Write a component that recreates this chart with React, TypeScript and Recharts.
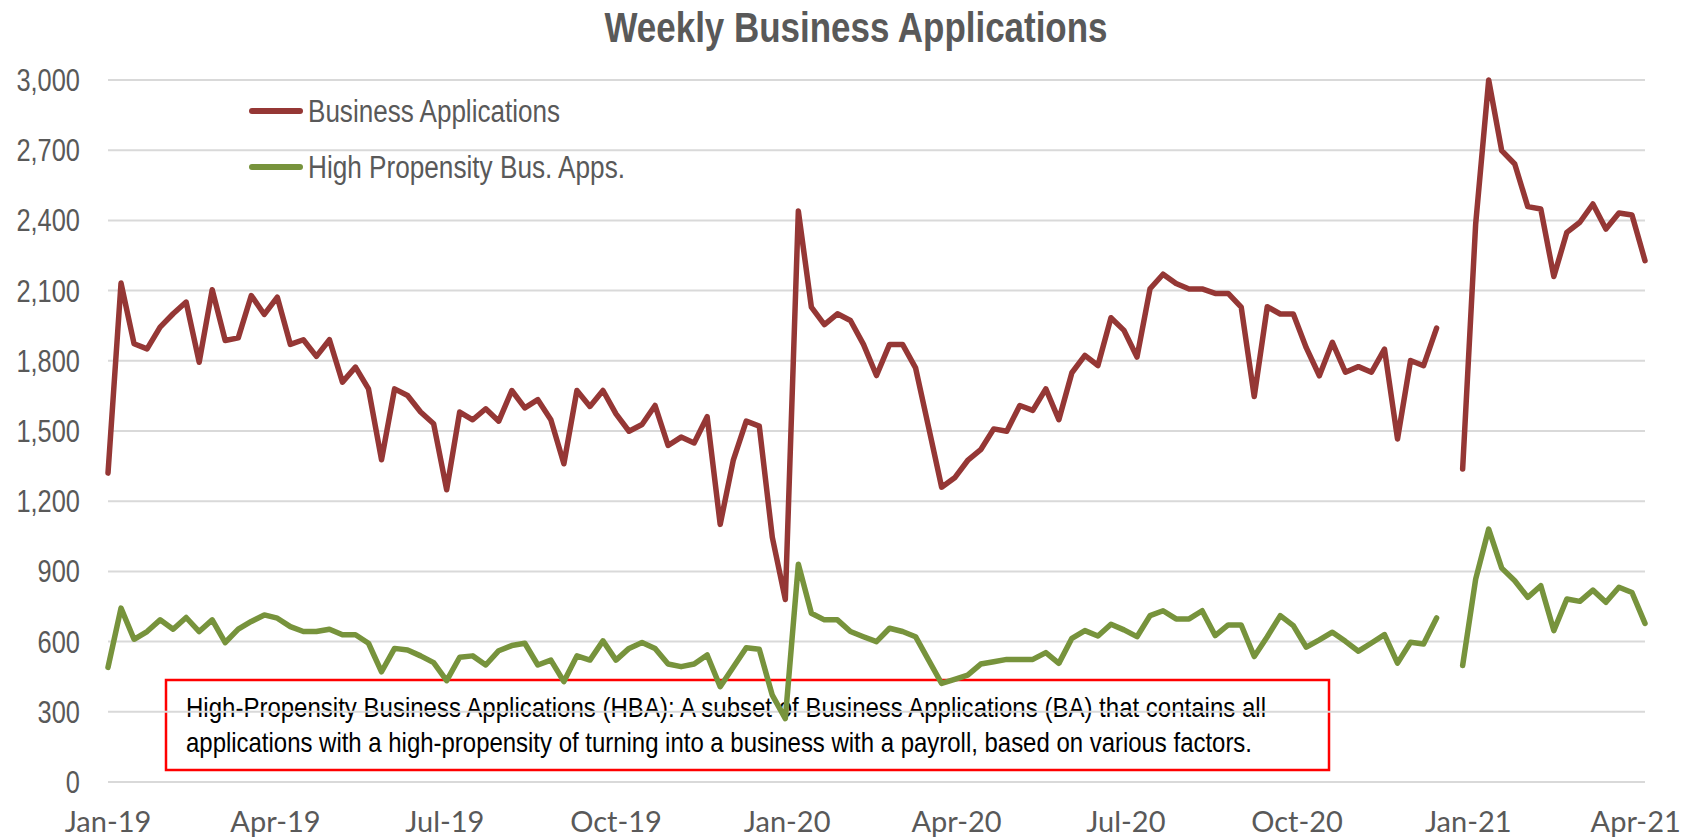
import { LineChart, Line, XAxis, YAxis, CartesianGrid, Legend } from 'recharts'

// ─── Data ──────────────────────────────────────────────────────────────────────

// one point per week, starting on the first week of Jan 2019 (index 103 is missing)
const BUSINESS_APPS: (number | null)[] = [
  1320, 2132, 1873, 1851, 1944, 2001, 2051, 1794, 2104, 1887,
  1898, 2079, 1998, 2072, 1870, 1890, 1819, 1890, 1709, 1773,
  1680, 1377, 1680, 1652, 1581, 1531, 1249, 1581, 1548, 1595,
  1542, 1673, 1599, 1634, 1548, 1360, 1673, 1605, 1673, 1573,
  1499, 1528, 1609, 1438, 1474, 1449, 1561, 1101, 1374, 1542,
  1521, 1046, 780, 2440, 2029, 1955, 2001, 1972, 1870, 1737,
  1870, 1870, 1770, 1516, 1260, 1300, 1374, 1420, 1509, 1499,
  1609, 1588, 1680, 1548, 1749, 1823, 1780, 1984, 1930, 1816,
  2108, 2170, 2130, 2107, 2107, 2088, 2088, 2029, 1647, 2031,
  2000, 2000, 1855, 1736, 1879, 1751, 1775, 1751, 1850, 1466,
  1801, 1779, 1940, null, 1338, 2385, 3000, 2698, 2641, 2459,
  2449, 2160, 2349, 2392, 2470, 2363, 2432, 2423, 2228,
]

const HIGH_PROPENSITY: (number | null)[] = [
  490, 743, 610, 643, 693, 653, 703, 643, 693, 596,
  653, 686, 714, 700, 664, 643, 643, 653, 629, 629,
  593, 471, 571, 564, 539, 510, 433, 533, 539, 500,
  561, 583, 593, 500, 521, 429, 539, 521, 603, 521,
  571, 596, 571, 504, 493, 504, 543, 407, 490, 574,
  567, 371, 271, 931, 721, 693, 693, 643, 621, 600,
  657, 643, 621, 521, 421, 439, 457, 504, 514, 524,
  524, 524, 553, 507, 614, 647, 624, 674, 650, 621,
  711, 732, 697, 697, 732, 626, 671, 671, 536, 621,
  711, 668, 576, 607, 640, 601, 559, 594, 630, 508,
  597, 590, 701, null, 498, 867, 1081, 914, 860, 789,
  839, 647, 782, 772, 820, 768, 832, 810, 678,
]

// days since Jan 1 2019
const TICK_DAYS = [0, 90, 181, 273, 365, 456, 547, 639, 731, 821]
const TICK_LABELS = ['Jan-19', 'Apr-19', 'Jul-19', 'Oct-19', 'Jan-20', 'Apr-20', 'Jul-20', 'Oct-20', 'Jan-21', 'Apr-21']
const Y_TICKS = [0, 300, 600, 900, 1200, 1500, 1800, 2100, 2400, 2700, 3000]

const data = BUSINESS_APPS.map((ba, i) => ({
  day: i * 7,
  ba,
  hba: HIGH_PROPENSITY[i],
}))

// ─── Styles ────────────────────────────────────────────────────────────────────

const NARROW = "'Liberation Sans Narrow', 'Arial Narrow', 'Liberation Sans', sans-serif"
const RED = '#953735'
const GREEN = '#77933C'
const GREY_TEXT = '#595959'
const LEGEND_WIDTHS = [252, 317]

// no narrow font installed, so squeeze the regular one
const NarrowYTick = (props: any) => {
  const { x, y, payload } = props
  return (
    <g transform={`translate(${x},${y})`}>
      <text
        transform="scale(0.82,1)"
        textAnchor="end"
        dy="0.355em"
        fontSize={31}
        fontFamily={NARROW}
        fill={GREY_TEXT}
      >
        {Number(payload.value).toLocaleString('en-US')}
      </text>
    </g>
  )
}

const renderLegend = (props: any) => {
  const payload = props.payload || []
  return (
    <svg width={560} height={120}>
      {payload.map((entry: any, i: number) => (
        <g key={entry.value}>
          <line
            x1={12}
            x2={60}
            y1={31 + i * 56}
            y2={31 + i * 56}
            stroke={entry.color}
            strokeWidth={6}
            strokeLinecap="round"
          />
          <text
            x={68}
            y={42 + i * 56}
            fontSize={31}
            fontFamily={NARROW}
            fill={GREY_TEXT}
            textLength={LEGEND_WIDTHS[i]}
            lengthAdjust="spacingAndGlyphs"
          >
            {entry.value}
          </text>
        </g>
      ))}
    </svg>
  )
}

// ─── Component ─────────────────────────────────────────────────────────────────

export default function App() {
  return (
    <div style={{ position: 'absolute', left: 0, top: 0, width: 1681, height: 839, background: '#fff' }}>
      <svg width={1681} height={839} style={{ position: 'absolute', left: 0, top: 0 }}>
        <text
          x={856}
          y={42}
          textAnchor="middle"
          fontSize={42}
          fontWeight="bold"
          fontFamily={NARROW}
          fill={GREY_TEXT}
          textLength={503}
          lengthAdjust="spacingAndGlyphs"
        >
          Weekly Business Applications
        </text>
        <rect x={166} y={680} width={1163} height={90} fill="none" stroke="#FF0000" strokeWidth={2.5} />
        <text x={186} y={717} fontSize={28} fontFamily={NARROW} fill="#000" textLength={1080} lengthAdjust="spacingAndGlyphs">
          High-Propensity Business Applications (HBA): A subset of Business Applications (BA) that contains all
        </text>
        <text x={186} y={752} fontSize={28} fontFamily={NARROW} fill="#000" textLength={1066} lengthAdjust="spacingAndGlyphs">
          applications with a high-propensity of turning into a business with a payroll, based on various factors.
        </text>
      </svg>
      <div style={{ position: 'absolute', left: 0, top: 0 }}>
        <LineChart width={1681} height={839} data={data} margin={{ top: 80, right: 36, bottom: 0, left: 8 }}>
          <CartesianGrid vertical={false} stroke="#D9D9D9" strokeWidth={2} />
          <XAxis
            dataKey="day"
            type="number"
            domain={[0, 826]}
            ticks={TICK_DAYS}
            interval={0}
            tickFormatter={(v: number) => TICK_LABELS[TICK_DAYS.indexOf(v)]}
            axisLine={false}
            tickLine={false}
            tickSize={0}
            tickMargin={29}
            height={57}
            tick={{ fontSize: 29, fill: GREY_TEXT, fontFamily: 'Lato, sans-serif' }}
          />
          <YAxis
            domain={[0, 3000]}
            ticks={Y_TICKS}
            interval={0}
            axisLine={false}
            tickLine={false}
            tickSize={0}
            tickMargin={28}
            width={100}
            tick={<NarrowYTick />}
          />
          <Legend
            layout="vertical"
            align="center"
            verticalAlign="middle"
            content={renderLegend}
            wrapperStyle={{ left: 240, top: 80, width: 560, height: 120 }}
          />
          <Line
            type="linear"
            dataKey="ba"
            name="Business Applications"
            stroke={RED}
            strokeWidth={5.5}
            strokeLinejoin="round"
            strokeLinecap="round"
            dot={false}
            activeDot={false}
            isAnimationActive={false}
          />
          <Line
            type="linear"
            dataKey="hba"
            name="High Propensity Bus. Apps."
            stroke={GREEN}
            strokeWidth={5.5}
            strokeLinejoin="round"
            strokeLinecap="round"
            dot={false}
            activeDot={false}
            isAnimationActive={false}
          />
        </LineChart>
      </div>
    </div>
  )
}
